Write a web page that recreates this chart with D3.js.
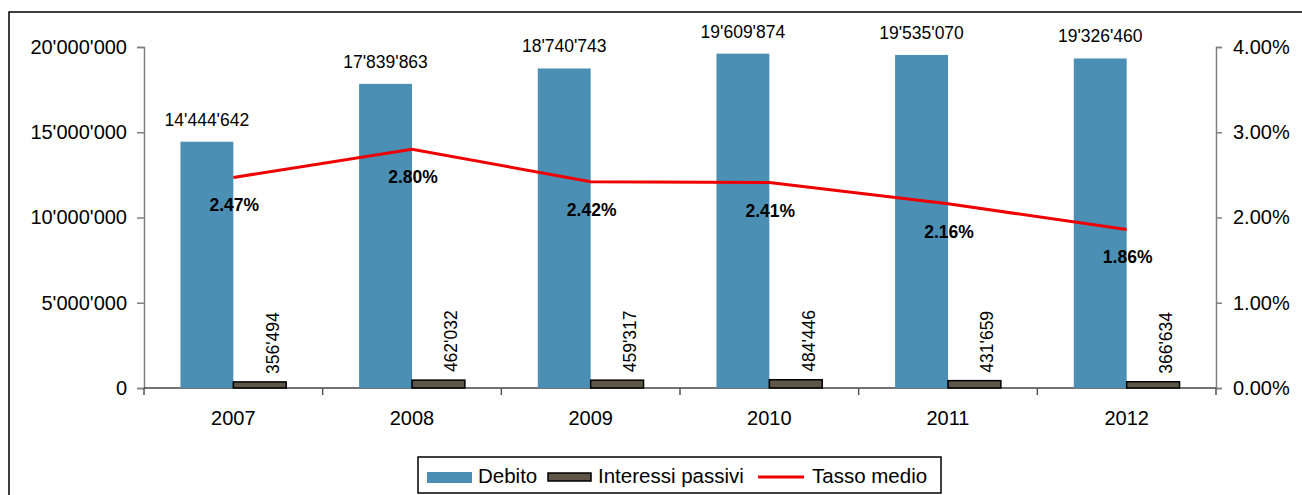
<!DOCTYPE html>
<html>
<head>
<meta charset="utf-8">
<script src="https://cdn.jsdelivr.net/npm/d3@7"></script>
<style>
  body { margin: 0; background: #fff; }
  svg text { font-family: "Liberation Sans", Arial, Helvetica, sans-serif; fill: #000; }
</style>
</head>
<body>
<div id="chart"></div>
<script>
var years = ["2007", "2008", "2009", "2010", "2011", "2012"];
var debito = [14444642, 17839863, 18740743, 19609874, 19535070, 19326460];
var interessi = [356494, 462032, 459317, 484446, 431659, 366634];
var tasso = [2.47, 2.80, 2.42, 2.41, 2.16, 1.86];
var leftTicks = [0, 5000000, 10000000, 15000000, 20000000];
var rightTicks = [0, 1, 2, 3, 4];

var W = 1302, H = 495;
var svg = d3.select("#chart").append("svg")
    .attr("width", W)
    .attr("height", H);

// outer frame (only left and top edges are visible)
svg.append("rect")
    .attr("x", 9).attr("y", 12)
    .attr("width", 1400).attr("height", 600)
    .attr("fill", "none")
    .attr("stroke", "#000")
    .attr("stroke-width", 1.5);

var x = d3.scaleBand().domain(years).range([144, 1216]).padding(0);
var y = d3.scaleLinear().domain([0, 20000000]).range([388, 47]);
var y2 = d3.scaleLinear().domain([0, 4]).range([388, 47]);
var barW = x.bandwidth() * 0.296;

var fmt = function(v) { return d3.format(",")(v).replace(/,/g, "'"); };
var axisColor = "#808080";

// left axis
var gl = svg.append("g").attr("transform", "translate(144,0)")
    .call(d3.axisLeft(y).tickValues(leftTicks).tickSize(7).tickPadding(10).tickFormat(fmt));
gl.selectAll("text").style("font-size", "20px");

// right axis
var gr = svg.append("g").attr("transform", "translate(1216,0)")
    .call(d3.axisRight(y2).tickValues(rightTicks).tickSize(6).tickPadding(11)
      .tickFormat(function(d) { return d3.format(".2f")(d) + "%"; }));
gr.selectAll("text").style("font-size", "20px");

[gl, gr].forEach(function(g) {
  g.select(".domain").attr("stroke", axisColor).attr("stroke-width", 1.5);
  g.selectAll(".tick line").attr("stroke", axisColor).attr("stroke-width", 1.5);
});

// x axis baseline + ticks at band edges
var gx = svg.append("g").attr("transform", "translate(0,388)");
gx.append("line")
    .attr("x1", 144).attr("x2", 1216)
    .attr("stroke", "#444").attr("stroke-width", 1.5);
gx.selectAll(".xt")
    .data(years.concat(["end"]))
    .enter().append("line")
    .attr("x1", function(d, i) { return 144 + i * x.bandwidth(); })
    .attr("x2", function(d, i) { return 144 + i * x.bandwidth(); })
    .attr("y1", 0).attr("y2", 7)
    .attr("stroke", "#555").attr("stroke-width", 1.5);
gx.selectAll(".xl")
    .data(years)
    .enter().append("text")
    .attr("x", function(d) { return x(d) + x.bandwidth() / 2; })
    .attr("y", 37)
    .attr("text-anchor", "middle")
    .style("font-size", "20px")
    .text(function(d) { return d; });

// Debito bars
svg.selectAll(".deb")
    .data(debito)
    .enter().append("rect")
    .attr("x", function(d, i) { return x(years[i]) + x.bandwidth() / 2 - barW; })
    .attr("y", function(d) { return y(d); })
    .attr("width", barW)
    .attr("height", function(d) { return 388 - y(d); })
    .attr("fill", "#4b8fb4");

// Interessi bars
svg.selectAll(".int")
    .data(interessi)
    .enter().append("rect")
    .attr("x", function(d, i) { return x(years[i]) + x.bandwidth() / 2; })
    .attr("y", function(d) { return y(d); })
    .attr("width", barW)
    .attr("height", function(d) { return 388 - y(d); })
    .attr("fill", "#5f5549")
    .attr("stroke", "#000")
    .attr("stroke-width", 1.5);

// Debito labels
svg.selectAll(".debl")
    .data(debito)
    .enter().append("text")
    .attr("x", function(d, i) { return x(years[i]) + x.bandwidth() / 2 - barW / 2; })
    .attr("y", function(d) { return y(d) - 16; })
    .attr("text-anchor", "middle")
    .style("font-size", "17.5px")
    .text(fmt);

// Interessi labels (rotated)
svg.selectAll(".intl")
    .data(interessi)
    .enter().append("text")
    .attr("transform", function(d, i) {
      var cx = x(years[i]) + x.bandwidth() / 2 + barW / 2 + 19;
      return "translate(" + cx + "," + (y(d) - 8) + ") rotate(-90)";
    })
    .attr("text-anchor", "start")
    .style("font-size", "17.5px")
    .text(fmt);

// Tasso medio line
var line = d3.line()
    .x(function(d, i) { return x(years[i]) + x.bandwidth() / 2; })
    .y(function(d) { return y2(d); });
svg.append("path")
    .attr("d", line(tasso))
    .attr("fill", "none")
    .attr("stroke", "#ee0000")
    .attr("stroke-width", 3);

svg.selectAll(".tl")
    .data(tasso)
    .enter().append("text")
    .attr("x", function(d, i) { return x(years[i]) + x.bandwidth() / 2 + 1; })
    .attr("y", function(d) { return y2(d) + 34; })
    .attr("text-anchor", "middle")
    .style("font-size", "17.5px")
    .style("font-weight", "bold")
    .text(function(d) { return d3.format(".2f")(d) + "%"; });

// legend
var lg = svg.append("g");
lg.append("rect")
    .attr("x", 418).attr("y", 457)
    .attr("width", 523).attr("height", 36)
    .attr("fill", "#fff")
    .attr("stroke", "#000").attr("stroke-width", 1.5);
lg.append("rect")
    .attr("x", 427).attr("y", 472).attr("width", 45).attr("height", 11)
    .attr("fill", "#4b8fb4");
lg.append("text").attr("x", 478).attr("y", 483)
    .style("font-size", "20.5px").text("Debito");
lg.append("rect")
    .attr("x", 548).attr("y", 473).attr("width", 43).attr("height", 8)
    .attr("fill", "#5f5549").attr("stroke", "#000").attr("stroke-width", 1.5);
lg.append("text").attr("x", 598).attr("y", 483)
    .style("font-size", "20.5px").text("Interessi passivi");
lg.append("line")
    .attr("x1", 758).attr("x2", 804).attr("y1", 477).attr("y2", 477)
    .attr("stroke", "#ee0000").attr("stroke-width", 3);
lg.append("text").attr("x", 812).attr("y", 483)
    .style("font-size", "20.5px").text("Tasso medio");
</script>
</body>
</html>
